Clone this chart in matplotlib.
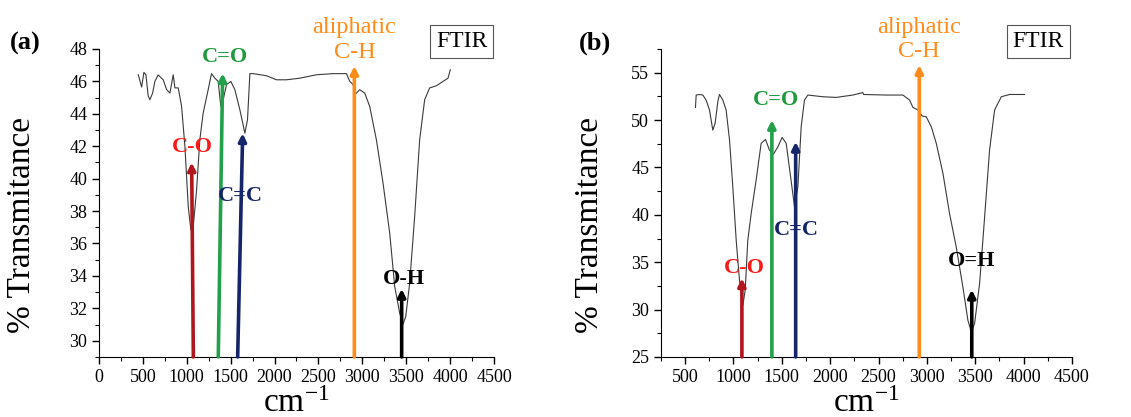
import numpy as np
import matplotlib.pyplot as plt
from matplotlib.ticker import MultipleLocator

plt.rcParams['font.family'] = ['Liberation Serif', 'DejaVu Serif']
plt.rcParams['mathtext.fontset'] = 'custom'
plt.rcParams['mathtext.rm'] = 'Liberation Serif'

# spectrum (a)
wn_a = [448, 486, 512, 535, 561, 580, 611, 637, 675, 732, 770, 808, 846, 865, 903,
        941, 979, 1017, 1047, 1074, 1112, 1149, 1187, 1244, 1282, 1320, 1358, 1388,
        1415, 1453, 1502, 1548, 1605, 1662, 1692, 1719, 1757, 1908, 2022, 2136, 2288,
        2477, 2667, 2819, 2857, 2895, 2925, 2970, 3027, 3084, 3160, 3236, 3312, 3369,
        3426, 3464, 3494, 3539, 3596, 3653, 3710, 3767, 3843, 3919, 3976, 4002]
tr_a = [46.41, 45.65, 46.56, 46.4, 45.1, 44.87, 45.28, 46.0, 46.4, 46.1, 45.5, 45.28,
        46.41, 45.6, 45.6, 44.46, 41.99, 38.28, 36.84, 37.04, 39.31, 42.4, 44.05, 45.49,
        46.48, 46.2, 46.0, 44.46, 44.87, 45.8, 46.0, 45.49, 44.25, 42.81, 43.63, 46.48,
        46.48, 46.35, 46.1, 46.1, 46.2, 46.41, 46.48, 46.48, 46.0, 45.8, 45.24, 45.49,
        45.28, 44.46, 42.4, 39.72, 36.63, 33.34, 31.69, 31.03, 31.48, 33.54, 37.66, 42.4,
        44.87, 45.6, 45.73, 46.0, 46.2, 46.72]

# spectrum (b)
wn_b = [607, 614, 648, 683, 717, 752, 786, 810, 838, 855, 890, 924, 959, 993, 1028,
        1062, 1097, 1121, 1148, 1183, 1234, 1286, 1331, 1372, 1414, 1459, 1503, 1545,
        1586, 1631, 1666, 1700, 1734, 1769, 1924, 2062, 2234, 2338, 2345, 2579, 2752,
        2821, 2855, 2907, 2952, 2993, 3045, 3097, 3166, 3234, 3303, 3372, 3424, 3459,
        3493, 3545, 3597, 3648, 3700, 3769, 3855, 4010]
tr_b = [51.34, 52.64, 52.7, 52.64, 52.11, 51.06, 48.94, 49.65, 51.94, 52.7, 52.11,
        51.06, 47.89, 42.96, 37.32, 33.1, 30.46, 32.04, 37.32, 40.14, 43.66, 47.54, 47.96,
        46.83, 46.41, 47.18, 48.17, 47.54, 44.37, 40.85, 42.96, 49.3, 52.11, 52.64, 52.46,
        52.39, 52.64, 52.9, 52.7, 52.64, 52.64, 52.11, 51.34, 51.06, 50.42, 50.35, 49.3,
        47.54, 44.37, 40.14, 36.62, 32.39, 28.87, 27.64, 28.52, 32.75, 39.79, 46.83,
        51.06, 52.46, 52.7, 52.7]

# band assignments
colors = ['#ff1a1a', '#1e9a3c', '#15256a', '#ff8c1a', '#000000']
arrow_colors = ['#b0161e', '#22a04a', '#15256a', '#ff8c1a', '#000000']

labels_a = ['C-O', 'C=O', 'C=C', 'aliphatic\nC-H', 'O-H']
base_a = [1075, 1359, 1580, 2909, 3448]
tip_x_a = [1056, 1409, 1637, 2909, 3448]
tip_y_a = [41.0, 46.5, 42.8, 46.95, 33.2]
lab_x_a = [1067, 1435, 1614, 2909, 3475]
lab_y_a = [41.95, 47.5, 38.9, 48.56, 33.8]

labels_b = ['C-O', 'C=O', 'C=C', 'aliphatic\nC-H', 'O=H']
base_b = [1087, 1397, 1643, 2921, 3464]
tip_x_b = [1087, 1397, 1643, 2921, 3464]
tip_y_b = [33.3, 50.0, 47.7, 55.8, 32.1]
lab_x_b = [1115, 1443, 1650, 2921, 3464]
lab_y_b = [34.4, 52.1, 38.4, 58.47, 35.1]

fig = plt.figure(figsize=(11.31, 4.17), dpi=100)
ax1 = fig.add_axes([0.0875, 0.144, 0.3493, 0.7385])
ax2 = fig.add_axes([0.5844, 0.144, 0.3634, 0.7385])


def draw(ax, wn, tr, ylim, xlim, labels, base, tx, ty, lx, ly):
    ax.plot(wn, tr, color='#3a3a3a', lw=0.8)
    ax.set_xlim(*xlim)
    ax.set_ylim(*ylim)
    for i in range(len(labels)):
        ax.annotate('', xy=(tx[i], ty[i]), xytext=(base[i], ylim[0]),
                    arrowprops=dict(arrowstyle='-|>', lw=2.6, color=arrow_colors[i],
                                    mutation_scale=11, shrinkA=0, shrinkB=0),
                    annotation_clip=False)
        if '\n' in labels[i]:
            ax.text(lx[i], ly[i], labels[i], color=colors[i], fontsize=17.5,
                    ha='center', va='center', linespacing=1.2, clip_on=False)
        else:
            ax.text(lx[i], ly[i], labels[i], color=colors[i], fontsize=16,
                    fontweight='bold', ha='center', va='center')
    for side in ['top', 'right']:
        ax.spines[side].set_visible(False)
    ax.tick_params(which='major', direction='out', length=5, width=1, labelsize=13)
    ax.tick_params(which='minor', direction='out', length=3, width=0.8)
    ax.xaxis.set_minor_locator(MultipleLocator(250))
    ax.set_ylabel('% Transmitance', fontsize=24)
    ax.set_xlabel(r'$\mathregular{cm^{-1}}$', fontsize=24, labelpad=2)
    ax.text(0.918, 1.025, 'FTIR', transform=ax.transAxes, fontsize=17, ha='center',
            va='center', bbox=dict(boxstyle='square,pad=0.25', fc='white', ec='#555555', lw=0.8))


draw(ax1, wn_a, tr_a, (29, 48), (0, 4500), labels_a, base_a, tip_x_a, tip_y_a, lab_x_a, lab_y_a)
ax1.set_xticks(np.arange(0, 4501, 500))
ax1.yaxis.set_major_locator(MultipleLocator(2))
ax1.yaxis.set_minor_locator(MultipleLocator(1))
ax1.yaxis.set_label_coords(-0.158, 0.43)

draw(ax2, wn_b, tr_b, (25, 57.5), (250, 4500), labels_b, base_b, tip_x_b, tip_y_b, lab_x_b, lab_y_b)
ax2.set_xticks(np.arange(500, 4501, 500))
ax2.yaxis.set_major_locator(MultipleLocator(5))
ax2.yaxis.set_minor_locator(MultipleLocator(2.5))
ax2.yaxis.set_label_coords(-0.136, 0.43)

fig.text(0.022, 0.895, '(a)', fontsize=19, fontweight='bold', ha='center', va='center')
fig.text(0.526, 0.895, '(b)', fontsize=19, fontweight='bold', ha='center', va='center')

fig.savefig('out.png', dpi=100)
